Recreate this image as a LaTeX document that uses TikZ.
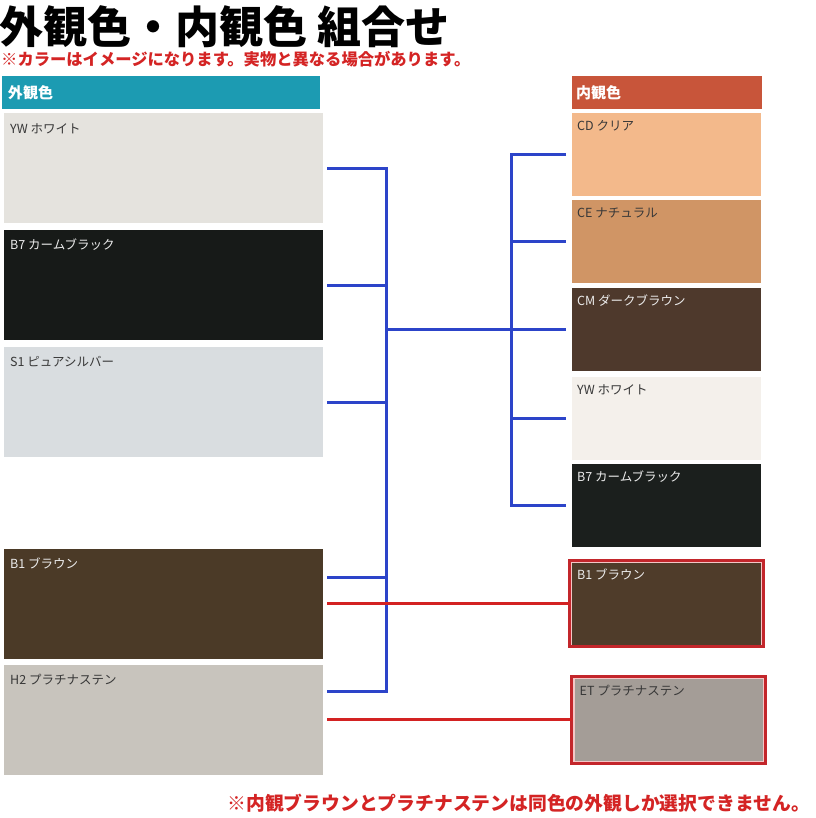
\documentclass[tikz,border=0pt]{standalone}
\usepackage{fontspec}
\newfontfamily\jp{Noto Sans CJK JP}
\usetikzlibrary{
    positioning,
    calc}
\definecolor{headteal}{HTML}{1C9BB2}
\definecolor{headrust}{HTML}{C8553A}
\definecolor{linkblue}{HTML}{2C44C9}
\definecolor{linkred}{HTML}{D32222}
\definecolor{framered}{HTML}{C3262B}
\definecolor{framepink}{HTML}{F4C6C6}
\definecolor{notered}{HTML}{D42424}
\definecolor{darktxt}{HTML}{383838}
\definecolor{lighttxt}{HTML}{ECECEC}
% left (exterior) colours
\definecolor{exyw}{HTML}{E5E3DE}
\definecolor{exbs}{HTML}{171A18}
\definecolor{exsi}{HTML}{D9DDE0}
\definecolor{exbr}{HTML}{4B3A27}
\definecolor{expl}{HTML}{C8C4BD}
% right (interior) colours
\definecolor{incd}{HTML}{F3B98B}
\definecolor{ince}{HTML}{D09565}
\definecolor{incm}{HTML}{4E392C}
\definecolor{inyw}{HTML}{F4F0EB}
\definecolor{inbs}{HTML}{1B1F1D}
\definecolor{inbr}{HTML}{4F3C2A}
\definecolor{inet}{HTML}{A49D97}
\tikzset{
    swatch/.style={rectangle, inner sep=0pt, outer sep=0pt},
    exswatch/.style={swatch, minimum width=319pt, minimum height=110pt},
    inswatch/.style={swatch, minimum width=189pt, minimum height=83pt},
    swlabel/.style={anchor=west, inner sep=0pt, font=\jp\fontsize{12.5}{13}\selectfont},
    header/.style={rectangle, outer sep=0pt, minimum height=33pt, align=left,
        text=white, font=\jp\bfseries\fontsize{15}{16}\selectfont},
    redframe/.style={rectangle, draw=framered, line width=3pt, fill=framepink,
        inner sep=0pt, outer sep=0pt},
    blueline/.style={draw=linkblue, line width=3pt},
    redline/.style={draw=linkred, line width=3pt}
}

\begin{document}
\begin{tikzpicture}[x=1pt,y=-1pt]
    \useasboundingbox[fill=white] (0,0) rectangle (815,818);
    % titles
    \node[anchor=west, inner sep=0pt, font=\jp\bfseries\fontsize{44}{45}\selectfont] (title) at (-1,27) {外観色・内観色 組合せ};
    \node[anchor=west, inner sep=0pt, text=notered, font=\jp\bfseries\fontsize{16.3}{17}\selectfont] (imgnote) at (1,59.5) {※カラーはイメージになります。実物と異なる場合があります。};
    % headers
    \node[header, fill=headteal, text width=306pt, inner xsep=6pt] (exhead) at (161,92.5) {外観色};
    \node[header, fill=headrust, text width=182pt, inner xsep=4pt] (inhead) at (667,92.5) {内観色};
    % exterior swatches
    \foreach \nm/\yc/\col/\tcol/\lab in {
        exyw/168.5/exyw/darktxt/{YW ホワイト},
        exbs/285/exbs/lighttxt/{B7 カームブラック},
        exsi/402/exsi/darktxt/{S1 ピュアシルバー},
        exbr/603.5/exbr/lighttxt/{B1 ブラウン},
        expl/719.5/expl/darktxt/{H2 プラチナステン}} {
      \node[exswatch, fill=\col] (\nm) at (163.5,\yc) {};
      \node[swlabel, text=\tcol] (\nm-lab) at ([shift={(6,15)}]\nm.north west) {\lab};
    }
    % interior swatches
    \foreach \nm/\yc/\col/\tcol/\lab in {
        incd/154.5/incd/darktxt/{CD クリア},
        ince/241.5/ince/darktxt/{CE ナチュラル},
        incm/329.5/incm/lighttxt/{CM ダークブラウン},
        inyw/418.5/inyw/darktxt/{YW ホワイト},
        inbs/505.5/inbs/lighttxt/{B7 カームブラック}} {
      \node[inswatch, fill=\col] (\nm) at (666.5,\yc) {};
      \node[swlabel, text=\tcol] (\nm-lab) at ([shift={(5,13)}]\nm.north west) {\lab};
    }
    % framed interior swatches
    \node[redframe, minimum width=194pt, minimum height=86pt] (frbr) at (666.5,603.5) {};
    \node[inswatch, fill=inbr, minimum height=82pt] (inbr) at (frbr.center) {};
    \node[swlabel, text=lighttxt] (inbr-lab) at ([shift={(5,12)}]inbr.north west) {B1 ブラウン};
    \node[redframe, minimum width=194pt, minimum height=87pt] (fret) at (668.5,719.5) {};
    \node[inswatch, fill=inet, minimum width=188pt, minimum height=82pt] (inet) at (fret.center) {};
    \node[swlabel, text=darktxt] (inet-lab) at ([shift={(5,12)}]inet.north west) {ET プラチナステン};
    % buses
    \coordinate (exbus) at (386,0);
    \coordinate (inbus) at (511,0);
    \coordinate (exbr-s) at ([yshift=26pt]exbr.east);
    \coordinate (expl-s) at ([yshift=28pt]expl.east);
    \draw[blueline] ([xshift=4pt]exyw.east) -| (expl-s -| exbus) -- ([xshift=4pt]expl-s);
    \draw[blueline] ([xshift=4pt]exbs.east) -- (exbs.east -| exbus);
    \draw[blueline] ([xshift=4pt]exsi.east) -- (exsi.east -| exbus);
    \draw[blueline] ([xshift=4pt]exbr-s) -- (exbr-s -| exbus);
    \draw[blueline] ([xshift=-6pt]incd.west) -| (inbs.west -| inbus) -- ([xshift=-6pt]inbs.west);
    \draw[blueline] (ince.west -| inbus) -- ([xshift=-6pt]ince.west);
    \draw[blueline] (inyw.west -| inbus) -- ([xshift=-6pt]inyw.west);
    \draw[blueline] (incm.west -| exbus) -- ([xshift=-6pt]incm.west);
    % same colour only
    \draw[redline] ([xshift=4pt]exbr.east) -- (frbr.west);
    \draw[redline] ([xshift=4pt]expl.east) -- (fret.west);
    \node[anchor=east, inner sep=0pt, text=notered, font=\jp\bfseries\fontsize{18.8}{19}\selectfont] (samenote) at (810,803) {※内観ブラウンとプラチナステンは同色の外観しか選択できません。};
\end{tikzpicture}
\end{document}
